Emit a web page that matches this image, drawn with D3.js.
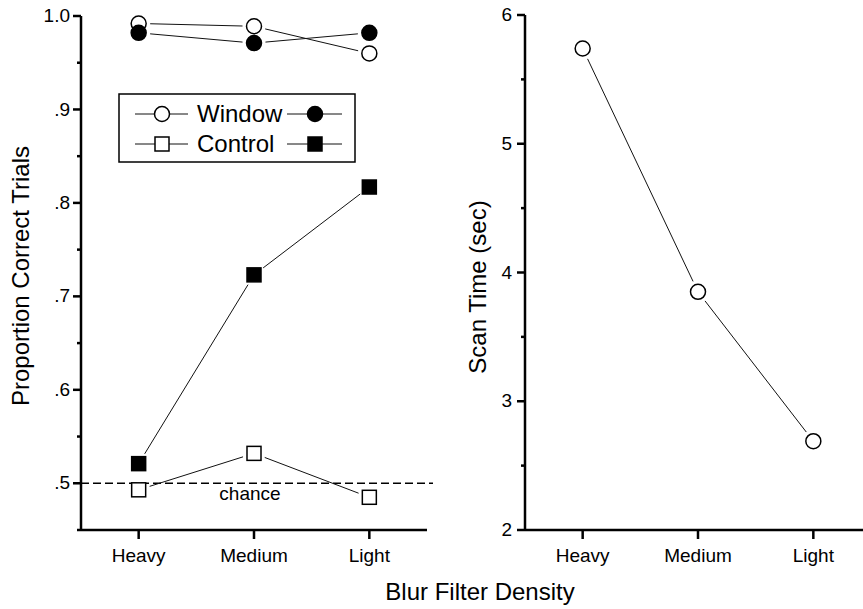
<!DOCTYPE html>
<html>
<head>
    <meta charset="utf-8" />
    <script src="https://cdn.jsdelivr.net/npm/d3@7/dist/d3.min.js"></script>
    <title></title>
    <style>
        body { margin: 0; background: #fff; }
        svg { font-family: "Liberation Sans", Arial, sans-serif; }
        .axis text { font-size: 19px; fill: #000; }
    </style>
</head>
<body>
    <script>
        // data
        var categories = ["Heavy", "Medium", "Light"];
        var windowOpen = [0.992, 0.989, 0.960];
        var windowFilled = [0.982, 0.971, 0.982];
        var controlOpen = [0.493, 0.532, 0.485];
        var controlFilled = [0.521, 0.723, 0.817];
        var scanTime = [5.74, 3.85, 2.69];
        var leftTicks = [0.5, 0.6, 0.7, 0.8, 0.9, 1.0];
        var leftTickLabels = [".5", ".6", ".7", ".8", ".9", "1.0"];
        var leftMinorTicks = [0.45, 0.55, 0.65, 0.75, 0.85, 0.95];
        var rightTicks = [2, 3, 4, 5, 6];
        var rightMinorTicks = [2.5, 3.5, 4.5, 5.5];
        var chanceLevel = 0.5;

        var svgWidth = 863, svgHeight = 609;
        var markR = 7.5, sq = 14, gap = 4;

        var svg = d3.select("body").append("svg")
            .attr("width", svgWidth)
            .attr("height", svgHeight);

        // scales
        var xL = d3.scalePoint().domain(categories).range([81, 427]).padding(0.5);
        var yL = d3.scaleLinear().domain([0.45, 1.0]).range([530, 16]);
        var xR = d3.scalePoint().domain(categories).range([525, 871]).padding(0.5);
        var yR = d3.scaleLinear().domain([2, 6]).range([530, 15]);

        // chance line
        svg.append("line")
            .attr("x1", 81).attr("x2", 433)
            .attr("y1", yL(chanceLevel)).attr("y2", yL(chanceLevel))
            .attr("stroke", "#000")
            .attr("stroke-width", 1.5)
            .attr("stroke-dasharray", "8,4");
        svg.append("text")
            .attr("x", 250).attr("y", yL(chanceLevel) + 17)
            .attr("text-anchor", "middle")
            .style("font-size", "19px")
            .text("chance");

        // connecting lines stop short of the markers
        function drawSeries(xs, ys, vals) {
            var pts = vals.map(function (v, i) { return [xs(categories[i]), ys(v)]; });
            for (var i = 0; i < pts.length - 1; i++) {
                var a = pts[i], b = pts[i + 1];
                var dx = b[0] - a[0], dy = b[1] - a[1];
                var len = Math.sqrt(dx * dx + dy * dy);
                var cut = markR + gap;
                svg.append("line")
                    .attr("x1", a[0] + dx / len * cut)
                    .attr("y1", a[1] + dy / len * cut)
                    .attr("x2", b[0] - dx / len * cut)
                    .attr("y2", b[1] - dy / len * cut)
                    .attr("stroke", "#111")
                    .attr("stroke-width", 1);
            }
            return pts;
        }

        function circles(pts, fill) {
            svg.selectAll(null).data(pts).enter().append("circle")
                .attr("cx", function (d) { return d[0]; })
                .attr("cy", function (d) { return d[1]; })
                .attr("r", markR)
                .attr("fill", fill)
                .attr("stroke", "#000")
                .attr("stroke-width", 1.5);
        }

        function squares(pts, fill) {
            svg.selectAll(null).data(pts).enter().append("rect")
                .attr("x", function (d) { return d[0] - sq / 2; })
                .attr("y", function (d) { return d[1] - sq / 2; })
                .attr("width", sq).attr("height", sq)
                .attr("fill", fill)
                .attr("stroke", "#000")
                .attr("stroke-width", 1.5);
        }

        circles(drawSeries(xL, yL, windowOpen), "#fff");
        circles(drawSeries(xL, yL, windowFilled), "#000");
        squares(drawSeries(xL, yL, controlOpen), "#fff");
        squares(drawSeries(xL, yL, controlFilled), "#000");
        circles(drawSeries(xR, yR, scanTime), "#fff");

        // legend
        var legend = svg.append("g");
        legend.append("rect")
            .attr("x", 119).attr("y", 94)
            .attr("width", 236).attr("height", 68)
            .attr("fill", "#fff")
            .attr("stroke", "#000")
            .attr("stroke-width", 1.5);
        var legendRows = [
            {label: "Window", y: 114, shape: "circle"},
            {label: "Control", y: 144, shape: "square"}
        ];
        legendRows.forEach(function (row) {
            [[135, 188, 162, "#fff"], [287, 342, 315, "#000"]].forEach(function (s) {
                legend.append("line")
                    .attr("x1", s[0]).attr("x2", s[1])
                    .attr("y1", row.y).attr("y2", row.y)
                    .attr("stroke", "#111").attr("stroke-width", 1);
                if (row.shape === "circle") {
                    legend.append("circle")
                        .attr("cx", s[2]).attr("cy", row.y).attr("r", markR)
                        .attr("fill", s[3]).attr("stroke", "#000").attr("stroke-width", 1.5);
                } else {
                    legend.append("rect")
                        .attr("x", s[2] - sq / 2).attr("y", row.y - sq / 2)
                        .attr("width", sq).attr("height", sq)
                        .attr("fill", s[3]).attr("stroke", "#000").attr("stroke-width", 1.5);
                }
            });
            legend.append("text")
                .attr("x", 197).attr("y", row.y)
                .attr("dy", "0.35em")
                .style("font-size", "24px")
                .text(row.label);
        });

        function styleAxis(g) {
            g.selectAll("path, line")
                .attr("stroke", "#000")
                .attr("stroke-width", 2.5);
        }

        // axes - left panel
        svg.append("g")
            .attr("class", "axis")
            .attr("transform", "translate(81,0)")
            .call(d3.axisLeft(yL).offset(0).tickValues(leftMinorTicks).tickSize(4).tickSizeOuter(0).tickFormat(""))
            .call(styleAxis)
            .select(".domain").remove();
        svg.append("g")
            .attr("class", "axis")
            .attr("transform", "translate(81,0)")
            .call(d3.axisLeft(yL).offset(0).tickValues(leftTicks).tickSize(8).tickSizeOuter(0).tickPadding(3)
                .tickFormat(function (d, i) { return leftTickLabels[i]; }))
            .call(styleAxis);
        svg.append("g")
            .attr("class", "axis")
            .attr("transform", "translate(0,530)")
            .call(d3.axisBottom(xL).offset(0).tickSize(9).tickSizeOuter(0).tickPadding(10))
            .call(styleAxis);

        // axes - right panel
        svg.append("g")
            .attr("class", "axis")
            .attr("transform", "translate(525,0)")
            .call(d3.axisLeft(yR).offset(0).tickValues(rightMinorTicks).tickSize(4).tickSizeOuter(0).tickFormat(""))
            .call(styleAxis)
            .select(".domain").remove();
        svg.append("g")
            .attr("class", "axis")
            .attr("transform", "translate(525,0)")
            .call(d3.axisLeft(yR).offset(0).tickValues(rightTicks).tickSize(8).tickSizeOuter(0).tickPadding(5)
                .tickFormat(d3.format("d")))
            .call(styleAxis);
        svg.append("g")
            .attr("class", "axis")
            .attr("transform", "translate(0,530)")
            .call(d3.axisBottom(xR).offset(0).tickSize(9).tickSizeOuter(0).tickPadding(10))
            .call(styleAxis);

        // titles
        svg.append("text")
            .attr("transform", "translate(29,276) rotate(-90)")
            .attr("text-anchor", "middle")
            .style("font-size", "24px")
            .text("Proportion Correct Trials");
        svg.append("text")
            .attr("transform", "translate(486,287) rotate(-90)")
            .attr("text-anchor", "middle")
            .style("font-size", "24px")
            .text("Scan Time (sec)");
        svg.append("text")
            .attr("x", 480).attr("y", 600)
            .attr("text-anchor", "middle")
            .style("font-size", "24px")
            .text("Blur Filter Density");
    </script>
</body>
</html>
